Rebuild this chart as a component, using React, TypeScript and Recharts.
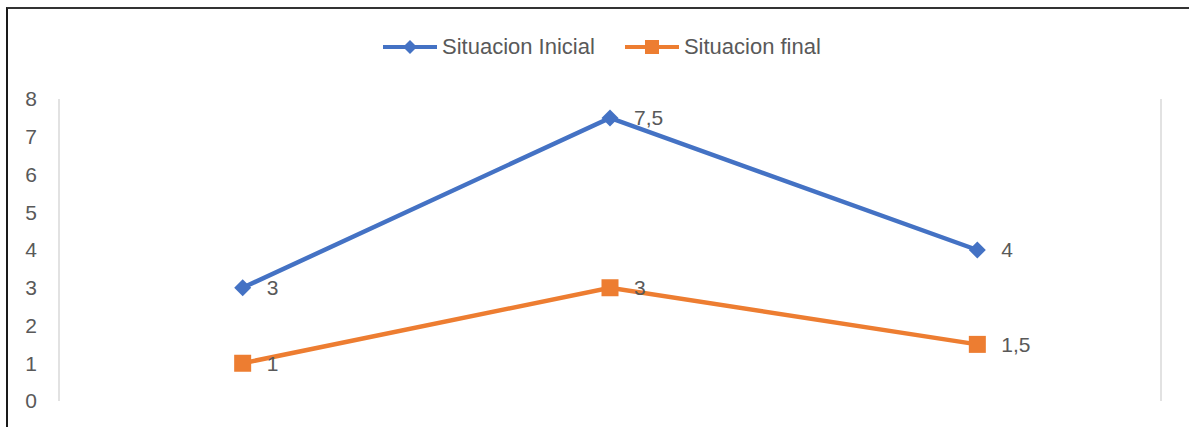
// Situacion inicial vs final — Excel-style line chart rebuilt with Recharts

import { LineChart, Line, XAxis, YAxis, CartesianGrid, LabelList } from 'recharts';

const categories = ['A', 'B', 'C'];
const situacionInicial = [3, 7.5, 4];
const situacionFinal = [1, 3, 1.5];
const yTicks = [0, 1, 2, 3, 4, 5, 6, 7, 8];
// category boundaries (index space) used for the vertical grid
const xBoundaries = [-0.5, 0.5, 1.5, 2.5];

const BLUE = '#4472C4';
const ORANGE = '#ED7D31';
const TEXT = '#595959';
const FONT = '"Liberation Sans", Arial, sans-serif';

const data = categories.map((cat, i) => ({
  cat,
  idx: i,
  inicial: situacionInicial[i],
  final: situacionFinal[i],
}));

const fmt = (v: number) => String(v).replace('.', ',');

function DiamondDot(props: any) {
  const { cx, cy, index } = props;
  if (cx == null || cy == null) return null;
  const r = 8.5;
  return (
    <path
      key={`d-${index}`}
      d={`M${cx},${cy - r} L${cx + r},${cy} L${cx},${cy + r} L${cx - r},${cy} Z`}
      fill={BLUE}
    />
  );
}

function SquareDot(props: any) {
  const { cx, cy, index } = props;
  if (cx == null || cy == null) return null;
  const r = 8.5;
  return <rect key={`s-${index}`} x={cx - r} y={cy - r} width={r * 2} height={r * 2} fill={ORANGE} />;
}

function LegendBox() {
  const item = (color: string, label: string, marker: 'diamond' | 'square') => (
    <div style={{ display: 'flex', alignItems: 'center', marginRight: 29 }}>
      <svg width={56} height={20}>
        <line x1={1} y1={10} x2={55} y2={10} stroke={color} strokeWidth={4} />
        {marker === 'diamond' ? (
          <path d="M28,3 L35,10 L28,17 L21,10 Z" fill={color} />
        ) : (
          <rect x={21} y={3} width={14} height={14} fill={color} />
        )}
      </svg>
      <span style={{ marginLeft: 4, color: TEXT, fontSize: 22 }}>{label}</span>
    </div>
  );
  return (
    <div style={{ position: 'absolute', left: 382, top: 34, display: 'flex', fontFamily: FONT }}>
      {item(BLUE, 'Situacion Inicial', 'diamond')}
      {item(ORANGE, 'Situacion final', 'square')}
    </div>
  );
}

export default function App() {
  return (
    <div style={{ position: 'absolute', left: 0, top: 0, width: 1189, height: 427, background: '#fff', fontFamily: FONT, overflow: 'hidden' }}>
      <div style={{ position: 'absolute', left: 6, top: 7, right: -10, bottom: -10, borderLeft: '2px solid #1a1a1a', borderTop: '2px solid #333' }} />
      <LegendBox />
      <div style={{ position: 'absolute', left: 0, top: 0 }}>
        <LineChart width={1189} height={427} data={data} margin={{ top: 99, right: 28, left: 0, bottom: 26 }}>
          <CartesianGrid horizontal={false} stroke="#d9d9d9" strokeWidth={1.5} />
          <XAxis
            dataKey="idx"
            type="number"
            domain={[-0.5, 2.5]}
            ticks={xBoundaries}
            tick={false}
            axisLine={false}
            tickLine={false}
            height={0}
          />
          <YAxis
            domain={[0, 8]}
            ticks={yTicks}
            axisLine={false}
            tickLine={false}
            tickSize={0}
            tickMargin={22}
            width={59}
            tick={{ fill: TEXT, fontSize: 21 }}
          />
          <Line
            dataKey="inicial"
            stroke={BLUE}
            strokeWidth={4.5}
            dot={DiamondDot}
            activeDot={false}
            isAnimationActive={false}
          >
            <LabelList dataKey="inicial" position="right" offset={24} fill={TEXT} fontSize={21} formatter={fmt} />
          </Line>
          <Line
            dataKey="final"
            stroke={ORANGE}
            strokeWidth={4.5}
            dot={SquareDot}
            activeDot={false}
            isAnimationActive={false}
          >
            <LabelList dataKey="final" position="right" offset={24} fill={TEXT} fontSize={21} formatter={fmt} />
          </Line>
        </LineChart>
      </div>
    </div>
  );
}
